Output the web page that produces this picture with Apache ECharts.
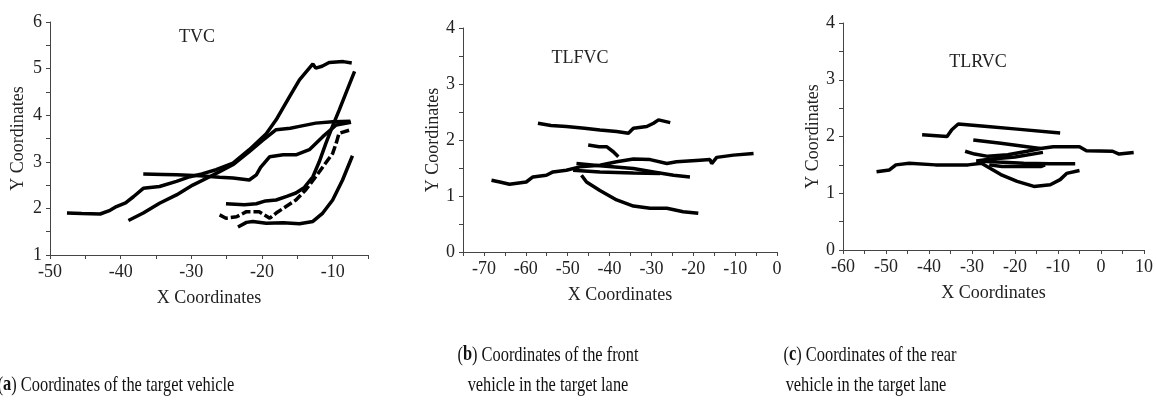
<!DOCTYPE html>
<html><head><meta charset="utf-8">
<script src="https://cdn.jsdelivr.net/npm/echarts@6/dist/echarts.min.js"></script>
<style>html,body{margin:0;padding:0;background:#fff}#c{width:1156px;height:407px}</style>
</head><body><div id="c"></div>
<script>
// ---- Panel (a) TVC: target vehicle tracks [x, y]
const tvc1 = [[-47.6,1.90],[-45.5,1.89],[-42.9,1.88],[-41.5,1.96],[-40.6,2.04],[-39.3,2.12],[-38.2,2.25],[-36.8,2.43],[-34.5,2.47],[-32.1,2.58],[-30.2,2.68],[-28.5,2.74],[-26.5,2.83],[-24.1,2.97],[-21.8,3.26],[-19.4,3.60],[-18.0,3.90],[-16.1,4.40],[-14.7,4.76],[-12.8,5.10],[-12.4,5.01],[-11.5,5.05],[-10.5,5.13],[-8.5,5.15],[-7.3,5.12]];
const tvc2 = [[-38.9,1.74],[-36.8,1.90],[-34.5,2.11],[-32.1,2.29],[-29.8,2.50],[-27.4,2.68],[-26.0,2.79],[-24.0,2.95],[-21.8,3.22],[-20.0,3.45],[-18.0,3.69],[-16.0,3.72],[-14.7,3.76],[-12.4,3.83],[-10.0,3.86],[-7.5,3.87]];
const tvc3 = [[-36.8,2.74],[-34.0,2.73],[-32.1,2.72],[-28.8,2.70],[-26.0,2.67],[-24.1,2.65],[-21.8,2.61],[-20.8,2.72],[-20.2,2.88],[-18.9,3.11],[-17.0,3.15],[-15.2,3.15],[-13.3,3.26],[-11.4,3.54],[-9.5,3.79],[-7.4,3.85]];
const tvc4 = [[-25.1,2.10],[-22.5,2.08],[-20.8,2.10],[-19.5,2.16],[-18.0,2.18],[-16.5,2.26],[-15.2,2.33],[-14.0,2.45],[-12.8,2.68],[-11.9,3.00],[-10.95,3.40],[-10.0,3.77],[-9.05,4.12],[-8.0,4.52],[-6.9,4.94]];
const tvc5 = [[-26.0,1.86],[-25.1,1.79],[-23.6,1.82],[-22.2,1.93],[-20.4,1.93],[-18.9,1.79],[-18.0,1.90],[-16.6,2.04],[-15.2,2.18],[-13.8,2.40],[-12.4,2.68],[-11.2,2.93],[-10.0,3.18],[-9.5,3.40],[-9.1,3.61],[-7.6,3.68]];
const tvc6 = [[-23.4,1.60],[-22.2,1.70],[-21.3,1.72],[-19.4,1.68],[-17.0,1.69],[-14.7,1.67],[-12.8,1.72],[-11.4,1.90],[-10.0,2.18],[-8.6,2.61],[-7.2,3.13]];
// ---- Panel (b) TLFVC: front vehicle in the target lane
const tlf1 = [[-57.1,2.30],[-54.0,2.26],[-50.3,2.24],[-46.0,2.21],[-42.3,2.18],[-38.3,2.15],[-35.5,2.12],[-34.3,2.21],[-31.1,2.24],[-29.5,2.30],[-28.3,2.36],[-25.5,2.31]];
const tlf2 = [[-45.1,1.91],[-42.5,1.88],[-40.7,1.88],[-39.1,1.79],[-37.9,1.70]];
const tlf3 = [[-68.2,1.28],[-66.2,1.25],[-63.9,1.21],[-59.9,1.25],[-58.3,1.34],[-55.1,1.37],[-53.5,1.43],[-50.3,1.46],[-47.1,1.52],[-42.3,1.55],[-38.3,1.61],[-34.3,1.66],[-30.3,1.65],[-26.3,1.58],[-24.0,1.61],[-18.4,1.64],[-16.0,1.65],[-15.6,1.58],[-14.4,1.69],[-10.4,1.73],[-5.6,1.76]];
const tlf4 = [[-47.9,1.58],[-42.3,1.54],[-34.3,1.49],[-29.5,1.43],[-24.7,1.37],[-20.8,1.34]];
const tlf5 = [[-48.7,1.46],[-42.3,1.43],[-34.3,1.41],[-27.9,1.40]];
const tlf6 = [[-46.7,1.37],[-45.5,1.25],[-42.3,1.10],[-38.3,0.93],[-34.3,0.82],[-30.3,0.78],[-26.3,0.78],[-22.4,0.72],[-18.8,0.69]];
// ---- Panel (c) TLRVC: rear vehicle in the target lane
const tlr1 = [[-52.2,1.38],[-49.2,1.41],[-47.7,1.50],[-44.6,1.53],[-38.5,1.50],[-30.9,1.50],[-27.8,1.53],[-26.0,1.45],[-23.3,1.33],[-19.5,1.21],[-15.6,1.12],[-11.8,1.15],[-9.5,1.24],[-8.0,1.35],[-5.0,1.40]];
const tlr2 = [[-41.6,2.03],[-35.8,2.00],[-34.7,2.12],[-33.2,2.22],[-27.1,2.18],[-19.5,2.13],[-9.5,2.06]];
const tlr3 = [[-29.7,1.94],[-23.3,1.88],[-17.2,1.82],[-14.1,1.79]];
const tlr4 = [[-31.6,1.74],[-29.4,1.69],[-26.3,1.65],[-21.7,1.68],[-17.2,1.74],[-14.1,1.79],[-11.1,1.82],[-5.0,1.82],[-3.4,1.75],[2.7,1.74],[4.2,1.69],[7.6,1.72]];
const tlr5 = [[-13.5,1.72],[-20.0,1.64],[-26.0,1.60],[-29.0,1.57],[-24.0,1.55],[-18.0,1.53],[-12.0,1.52],[-6.0,1.52]];
const tlr6 = [[-26.0,1.50],[-23.0,1.47],[-14.0,1.47],[-13.0,1.50]];

const panelTitles = ['TVC','TLFVC','TLRVC'];
const panelTracks = [[tvc1,tvc2,tvc3,tvc4,tvc5,tvc6],[tlf1,tlf2,tlf3,tlf4,tlf5,tlf6],[tlr1,tlr2,tlr3,tlr4,tlr5,tlr6]];
const xRanges = [[-50,-5],[-75,0],[-60,10]];
const yRanges = [[1,6],[0,4],[0,4]];
const captionLines = [
  '({b|a}) Coordinates of the target vehicle',
  '({b|b}) Coordinates of the front',
  'vehicle in the target lane',
  '({b|c}) Coordinates of the rear',
  'vehicle in the target lane'
];

const FONT = '"Liberation Serif", "Times New Roman", serif';
const grids = [
  {left:50, top:22, width:318, height:233},
  {left:463, top:28, width:314, height:224},
  {left:843, top:23, width:306, height:227}
];
const axLine = {show:true, onZero:false, lineStyle:{color:'#444', width:1}};
const axTick = {show:true, length:4, lineStyle:{color:'#444'}};
const xAxes = xRanges.map((r,i)=>({
  type:'value', gridIndex:i, min:r[0], max:r[1], interval:5,
  axisLine:axLine, axisTick:axTick, splitLine:{show:false},
  axisLabel:{margin:8, color:'#222', fontFamily:FONT, fontSize:18,
    formatter:v=>(Math.round(v)%10===0 ? String(v) : '')},
  name:'X Coordinates', nameLocation:'middle', nameGap:34,
  nameTextStyle:{color:'#222', fontFamily:FONT, fontSize:18}
}));
const yAxes = yRanges.map((r,i)=>({
  type:'value', gridIndex:i, min:r[0], max:r[1], interval:0.5,
  axisLine:axLine, axisTick:axTick, splitLine:{show:false},
  axisLabel:{margin:8, color:'#222', fontFamily:FONT, fontSize:18,
    formatter:v=>(Math.abs(v-Math.round(v))<1e-9 ? String(Math.round(v)) : '')},
  name:'Y Coordinates', nameLocation:'middle', nameGap:[23,20,18][i],
  nameTextStyle:{color:'#222', fontFamily:FONT, fontSize:18}
}));
const series = [];
panelTracks.forEach((tracks,i)=>{
  tracks.forEach((t,k)=>{
    const dashed = (i===0 && k===4);
    series.push({type:'line', xAxisIndex:i, yAxisIndex:i, data:t, showSymbol:false,
      symbol:'none', lineStyle:{color:'#000', width:3.5, type: dashed ? [9,3] : 'solid'},
      silent:true, animation:false});
  });
});
const titlePos = [[197,37],[580,58],[978,62]];
const graphic = panelTitles.map((t,i)=>({
  type:'text', x:titlePos[i][0], y:titlePos[i][1],
  style:{text:t, fill:'#222', font:'18px '+FONT, textAlign:'center', textVerticalAlign:'middle'}
}));
const capPos = [[116,385],[548,355],[548,385],[870,355],[866,385]];
captionLines.forEach((t,i)=>graphic.push({
  type:'text', x:capPos[i][0], y:capPos[i][1], scaleX:0.78, scaleY:1,
  style:{text:t, fill:'#111', font:'21px '+FONT, textAlign:'center', textVerticalAlign:'middle',
    rich:{b:{fontWeight:'bold', fontFamily:FONT, fontSize:21, fill:'#111'}}}
}));

const chart = echarts.init(document.getElementById('c'), null, {renderer:'canvas'});
chart.setOption({
  animation:false, backgroundColor:'#fff',
  grid:grids, xAxis:xAxes, yAxis:yAxes, series:series, graphic:graphic
});
</script></body></html>
